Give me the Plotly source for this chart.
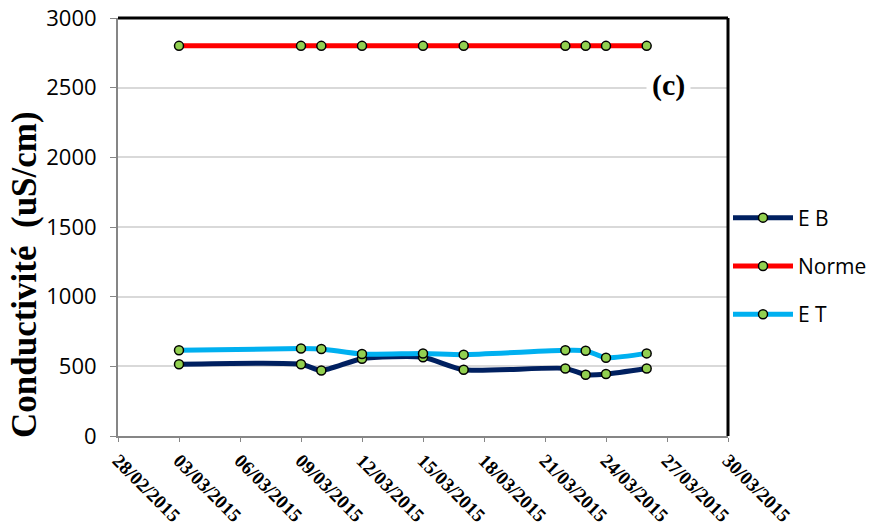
import plotly.graph_objects as go

dates = ["2015-03-03", "2015-03-09", "2015-03-10", "2015-03-12", "2015-03-15",
         "2015-03-17", "2015-03-22", "2015-03-23", "2015-03-24", "2015-03-26"]
eb = [515, 515, 470, 555, 565, 475, 485, 440, 445, 485]
norme = [2800, 2800, 2800, 2800, 2800, 2800, 2800, 2800, 2800, 2800]
et = [615, 628, 625, 588, 592, 584, 615, 612, 562, 593]

series = [("E B", eb, "#002060"), ("Norme", norme, "#FF0000"), ("E T", et, "#00B0F0")]

fig = go.Figure()
for i, (name, vals, col) in enumerate(series):
    fig.add_trace(go.Scatter(
        x=dates, y=vals, name=name, mode="lines+markers",
        line=dict(color=col, width=5, shape="spline", smoothing=0.6),
        marker=dict(color="#92D050", size=9, line=dict(color="black", width=1.5)),
        legendgroup=str(i),
    ))

fig.update_layout(
    width=875, height=528,
    margin=dict(l=118, r=147, t=18, b=92, autoexpand=False),
    paper_bgcolor="white", plot_bgcolor="white",
    showlegend=True,
    legend=dict(x=1.0, xanchor="left", y=(436 - 266) / 418, yanchor="middle",
                font=dict(family="Open Sans", size=21, color="black"),
                traceorder="grouped", tracegroupgap=18, itemwidth=60,
                bgcolor="rgba(0,0,0,0)"),
    xaxis=dict(
        type="date", range=["2015-02-28", "2015-03-30"], automargin=False,
        tick0="2015-02-28", dtick=3 * 86400000, tickformat="%d/%m/%Y",
        tickangle=45, ticks="outside", ticklen=4, tickcolor="#868686",
        showline=True, linecolor="#868686", linewidth=2,
        showgrid=False, zeroline=False,
        tickfont=dict(family="Liberation Serif", size=19, color="black", weight="bold"),
    ),
    yaxis=dict(
        range=[0, 3000], dtick=500, ticks="outside", ticklen=6, tickcolor="#868686",
        showline=True, linecolor="#868686", linewidth=2, automargin=False,
        showgrid=True, gridcolor="#D9D9D9", gridwidth=2, zeroline=False,
        tickfont=dict(family="Open Sans", size=22, color="black"),
        ticklabelstandoff=9,
    ),
)

fig.add_shape(type="line", xref="paper", yref="paper", x0=0, x1=1, y0=1, y1=1,
              line=dict(color="black", width=3), layer="above")
fig.add_shape(type="line", xref="paper", yref="paper", x0=1, x1=1, y0=0, y1=1,
              line=dict(color="black", width=3), layer="above")

fig.add_annotation(text="Conductivité  (uS/cm)", xref="paper", yref="paper",
                   x=(24 - 118) / 610, y=(436 - 275) / 418, textangle=-90, showarrow=False,
                   xanchor="center", yanchor="middle",
                   font=dict(family="Liberation Serif", size=35, color="black", weight="bold"))
fig.add_annotation(text="(c)", xref="paper", yref="paper",
                   x=(668 - 118) / 610, y=(436 - 85) / 418, showarrow=False,
                   xanchor="center", yanchor="middle",
                   bgcolor="white", borderpad=5,
                   font=dict(family="Liberation Serif", size=30, color="black", weight="bold"))
fig.write_html("out.html")
